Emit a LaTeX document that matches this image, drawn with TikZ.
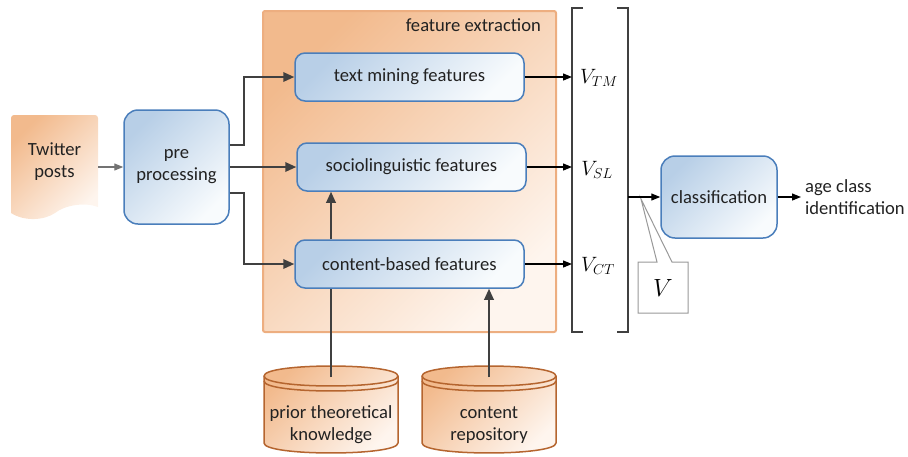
\documentclass[tikz,border=0pt]{standalone}
\usepackage{fontspec}
\setmainfont{Carlito}
\usetikzlibrary{arrows.meta,calc}
\definecolor{bA}{HTML}{B8CFE7}
\definecolor{bM}{HTML}{D1E1F0}
\definecolor{bB}{HTML}{F8FBFD}
\definecolor{bdr}{HTML}{4A7EBB}
\definecolor{oA}{HTML}{F2BA8D}
\definecolor{oM}{HTML}{F6CFB0}
\definecolor{oB}{HTML}{FEF5EE}
\definecolor{obdr}{HTML}{EDAE80}
\definecolor{cbdr}{HTML}{B5652F}
\definecolor{arrc}{HTML}{404040}
\definecolor{txt}{HTML}{222222}
\newcommand\mycyl[3]{%
\begin{scope}[xshift=#1pt]
\path[cyl] (-67,376) -- (-67,443) .. controls (-67,456.3) and (67,456.3) .. (67,443) -- (67,376) .. controls (67,362.7) and (-67,362.7) .. cycle;
\draw[cylline] (-67,376) .. controls (-67,389.3) and (67,389.3) .. (67,376);
\draw[cylline] (-67,381) .. controls (-67,394.3) and (67,394.3) .. (67,381);
\node[align=center, inner sep=0pt] (#2) at (0,425) {#3};
\coordinate (#2top) at (0,377);
\end{scope}}
\begin{document}
\begin{tikzpicture}[x=1pt,y=-1pt, font=\fontsize{18.6}{22}\selectfont, text=txt,
  blk/.style={draw=bdr, line width=1.5pt, rounded corners=10pt, top color=bA, middle color=bM, bottom color=bB, shading angle=45, align=center, inner sep=0pt},
  arr/.style={draw=arrc, line width=1.8pt, -{Triangle[length=11pt,width=9.5pt]}},
  arrline/.style={draw=arrc, line width=1.8pt},
  arrthin/.style={draw=black, line width=1.2pt, -{Triangle[length=9pt,width=7pt]}},
  arrgray/.style={draw=gray!90!black, line width=1.2pt, -{Triangle[length=9pt,width=7pt]}},
  cyl/.style={draw=cbdr, line width=1.5pt, top color=oA, middle color=oM, bottom color=oB, shading angle=45},
  cylline/.style={draw=cbdr, line width=1.5pt},
  brk/.style={draw=arrc, line width=2pt},
  vlab/.style={font=\fontsize{22}{24}\selectfont, text=black, inner sep=0pt}]
\useasboundingbox (0,0) rectangle (908,456);
% feature extraction area
\node[draw=obdr, line width=2pt, rounded corners=2pt, top color=oA, middle color=oA!70!oB, bottom color=oB, shading angle=45, minimum width=293, minimum height=321, inner sep=0pt] (fe) at (409.5,171.5) {};
\node[anchor=east, inner sep=0pt] (felab) at (541,25) {feature extraction};
% twitter posts
\path[top color=oA, middle color=oM, bottom color=oB, shading angle=45, rounded corners=3pt] (11,213) -- (11,115) -- (98,115) [sharp corners] -- (98,207) .. controls (85,202) and (65,205) .. (55,213) .. controls (45,220) and (25,222) .. (11,213) -- cycle;
\node[align=center, inner sep=0pt, minimum width=87, minimum height=96] (tw) at (54.5,162) {Twitter\\posts};
% boxes
\node[blk, rounded corners=14pt, minimum width=105, minimum height=114] (pre) at (176.5,167) {pre\\processing};
\node[blk, minimum width=229, minimum height=48] (tm) at (409.5,77) {text mining features};
\node[blk, minimum width=229, minimum height=48] (sl) at (411.5,167) {sociolinguistic features};
\node[blk, minimum width=229, minimum height=48] (cb) at (409.5,264) {content-based features};
\node[blk, rounded corners=14pt, minimum width=116, minimum height=82] (cl) at (719,197) {classification};
\node[anchor=west, align=left, inner sep=0pt, inner xsep=4pt] (out) at (801,197) {age class\\identification};
% cylinders
\mycyl{331}{pk}{prior theoretical\\knowledge}
\mycyl{489}{cr}{content\\repository}
% brackets
\draw[brk] (583,8) -- (572,8) -- (572,332) -- (583,332);
\draw[brk] (617,8) -- (628,8) -- (628,332) -- (617,332);
\coordinate (bl) at (572,170);
\coordinate (br) at (628,197);
% vector labels
\node[vlab] (vtm) at (599,78) {$V_{TM}$};
\node[vlab] (vsl) at (597,170) {$V_{SL}$};
\node[vlab] (vct) at (598,266) {$V_{CT}$};
% callout
\draw[draw=gray!80, line width=1pt, fill=white] (638,262) -- (657,262) -- (641,199) -- (672,262) -- (688,262) -- (688,313) -- (638,313) -- cycle;
\node[vlab, font=\fontsize{23}{24}\selectfont] (vv) at (663,288) {$V$};
% connectors
\draw[arrgray] (tw.east |- pre.west) -- (pre.west);
\draw[arr] ($(pre.east)+(0,-22)$) -- ++(14.5,0) |- (tm.west);
\draw[arr] (pre.east) -- (sl.west);
\draw[arr] ($(pre.east)+(0,26)$) -- ++(14.5,0) |- (cb.west);
\draw[arr] (cb.north -| pk) -- (sl.south -| pk);
\draw[arrline] (pktop) -- (cb.south -| pk);
\draw[arr] (crtop) -- (cb.south -| cr);
\draw[arrthin] (tm.east) -- (tm.east -| bl);
\draw[arrthin] (sl.east) -- (sl.east -| bl);
\draw[arrthin] (cb.east) -- (cb.east -| bl);
\draw[arrthin] (br) -- (cl.west);
\draw[arrthin] (cl.east) -- (out.west);
\end{tikzpicture}
\end{document}
